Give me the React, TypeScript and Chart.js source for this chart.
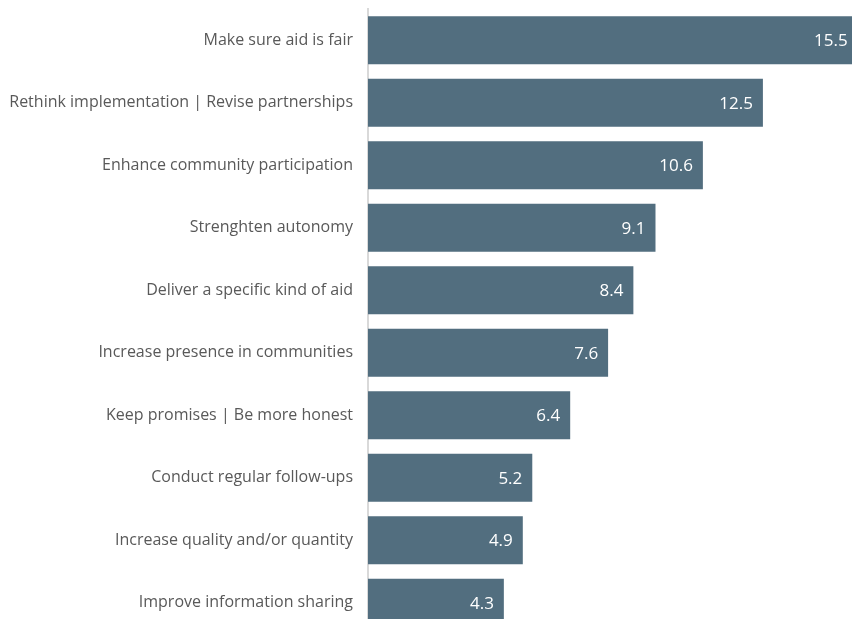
import React, { useEffect, useRef } from "react";
import { Chart, registerables } from "chart.js";

Chart.register(...registerables);

const categories = [
  "Make sure aid is fair",
  "Rethink implementation | Revise partnerships",
  "Enhance community participation",
  "Strenghten autonomy",
  "Deliver a specific kind of aid",
  "Increase presence in communities",
  "Keep promises | Be more honest",
  "Conduct regular follow-ups",
  "Increase quality and/or quantity",
  "Improve information sharing",
];
const values = [15.5, 12.5, 10.6, 9.1, 8.4, 7.6, 6.4, 5.2, 4.9, 4.3];

const BAR_COLOR = "#526E7F";
const LABEL_COLOR = "#595959";

const valueLabels = {
  id: "valueLabels",
  afterDatasetsDraw(chart: any) {
    const ctx = chart.ctx;
    const meta = chart.getDatasetMeta(0);
    const xScale = chart.scales.x;
    ctx.save();
    ctx.fillStyle = "#ffffff";
    ctx.font = '17px "Open Sans", sans-serif';
    ctx.textAlign = "right";
    ctx.textBaseline = "middle";
    meta.data.forEach((bar: any, i: number) => {
      const xEnd = xScale.getPixelForValue(values[i]);
      ctx.fillText(values[i].toFixed(1), xEnd - 10, bar.y + 1);
    });
    ctx.restore();
  },
};

export default function App() {
  const ref = useRef<HTMLCanvasElement | null>(null);
  useEffect(() => {
    document.body.style.overflow = "hidden";
    const canvas = ref.current!;
    const chart = new Chart(canvas, {
      type: "bar",
      data: {
        labels: categories,
        datasets: [
          {
            data: values,
            backgroundColor: BAR_COLOR,
            borderWidth: 0,
            barPercentage: 0.77,
            categoryPercentage: 1,
          },
        ],
      },
      options: {
        indexAxis: "y",
        responsive: false,
        animation: false,
        devicePixelRatio: 1,
        layout: { padding: { top: 9, right: 0, bottom: 0, left: 0 } },
        plugins: {
          legend: { display: false },
          tooltip: { enabled: false },
        },
        scales: {
          x: {
            display: false,
            min: 0,
            max: 15.32,
          },
          y: {
            afterFit(scale: any) {
              scale.width = 368;
              scale.paddingTop = 0;
              scale.paddingBottom = 0;
            },
            grid: { display: false, drawTicks: false },
            border: { display: true, color: "#D9D9D9", width: 2 },
            ticks: {
              color: LABEL_COLOR,
              padding: 15,
              font: { family: '"Open Sans", sans-serif', size: 16 },
            },
          },
        },
      },
      plugins: [valueLabels],
    });
    return () => chart.destroy();
  }, []);
  return (
    <div
      style={{
        position: "fixed",
        top: 0,
        left: 0,
        width: 852,
        height: 619,
        overflow: "hidden",
        background: "#ffffff",
      }}
    >
      <canvas
        ref={ref}
        width={852}
        height={634}
        style={{ display: "block", width: 852, height: 634 }}
      />
    </div>
  );
}
